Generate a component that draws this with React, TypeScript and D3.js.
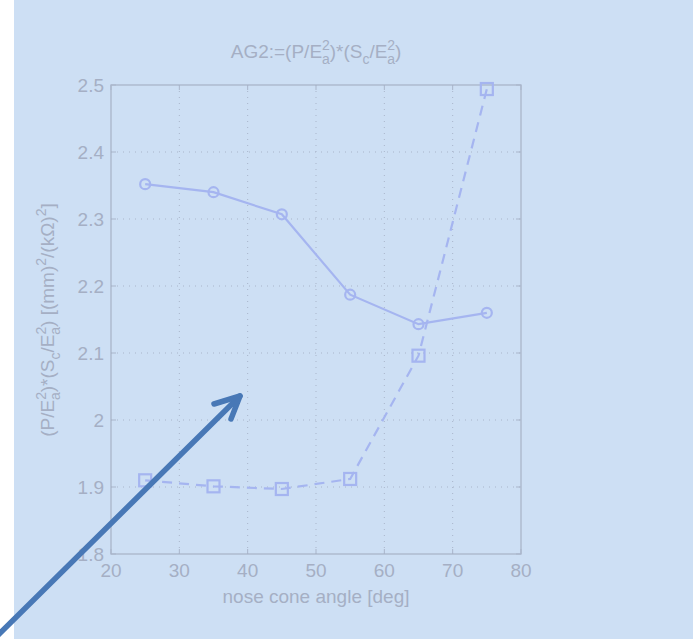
import React from "react";
import * as d3 from "d3";

const angles = [25, 35, 45, 55, 65, 75];
const circleSeries = [2.352, 2.34, 2.307, 2.187, 2.143, 2.16];
const squareSeries = [1.91, 1.901, 1.897, 1.912, 2.096, 2.494];
const xTicks = [20, 30, 40, 50, 60, 70, 80];
const yTicks = [1.8, 1.9, 2.0, 2.1, 2.2, 2.3, 2.4, 2.5];
const yTickLabels = ["1.8", "1.9", "2", "2.1", "2.2", "2.3", "2.4", "2.5"];

const W = 693, H = 642;
const L = 111, R = 521, T = 85, B = 554;
const textCol = "#a5afc4";
const axisCol = "#a9b5ca";
const lineCol = "#a5b5f0";
const font = "Liberation Sans, Arial, sans-serif";
const FS = 19;
const SS = 14;

export default function App() {
  const x = d3.scaleLinear().domain([20, 80]).range([L, R]);
  const y = d3.scaleLinear().domain([1.8, 2.5]).range([B, T]);
  const line = d3.line<number>().x((_, i) => x(angles[i])).y((d) => y(d));
  const arrowTip = [240, 396];
  return (
    <svg width={W} height={H} style={{ position: "absolute", left: 0, top: 0 }}>
      <rect x={0} y={0} width={W} height={H} fill="#ffffff" />
      <rect x={14} y={0} width={W - 14} height={639} fill="#cddff4" />
      {/* grid */}
      {xTicks.slice(1, -1).map((t) => (
        <line key={"gx" + t} x1={x(t)} x2={x(t)} y1={T} y2={B} stroke={axisCol} strokeWidth={1} strokeDasharray="1,5" />
      ))}
      {yTicks.slice(1, -1).map((t) => (
        <line key={"gy" + t} x1={L} x2={R} y1={y(t)} y2={y(t)} stroke={axisCol} strokeWidth={1} strokeDasharray="1,5" />
      ))}
      {/* box */}
      <rect x={L} y={T} width={R - L} height={B - T} fill="none" stroke={axisCol} strokeWidth={1.3} />
      {/* ticks */}
      {xTicks.map((t) => (
        <g key={"tx" + t}>
          <line x1={x(t)} x2={x(t)} y1={B} y2={B - 5} stroke={axisCol} />
          <line x1={x(t)} x2={x(t)} y1={T} y2={T + 5} stroke={axisCol} />
          <text x={x(t)} y={B + 23} textAnchor="middle" fontFamily={font} fontSize={FS} fill={textCol}>{t}</text>
        </g>
      ))}
      {yTicks.map((t, i) => (
        <g key={"ty" + t}>
          <line x1={L} x2={L + 5} y1={y(t)} y2={y(t)} stroke={axisCol} />
          <line x1={R} x2={R - 5} y1={y(t)} y2={y(t)} stroke={axisCol} />
          <text x={L - 7} y={y(t) + 7} textAnchor="end" fontFamily={font} fontSize={FS} fill={textCol}>{yTickLabels[i]}</text>
        </g>
      ))}
      {/* series */}
      <path d={line(circleSeries) || ""} fill="none" stroke={lineCol} strokeWidth={2.2} />
      {circleSeries.map((v, i) => (
        <circle key={"c" + i} cx={x(angles[i])} cy={y(v)} r={5} fill="none" stroke={lineCol} strokeWidth={2.2} />
      ))}
      <path d={line(squareSeries) || ""} fill="none" stroke={lineCol} strokeWidth={2.2} strokeDasharray="10,7" />
      {squareSeries.map((v, i) => (
        <rect key={"s" + i} x={x(angles[i]) - 6} y={y(v) - 6} width={12} height={12} fill="none" stroke={lineCol} strokeWidth={2.2} />
      ))}
      {/* title */}
      <text x={316} y={58} textAnchor="middle" fontFamily={font} fontSize={FS} fill={textCol}>
        AG2:=(P/E<tspan dy={-8} fontSize={SS}>2</tspan><tspan dx={-8} dy={14} fontSize={SS}>a</tspan><tspan dy={-6}>)*(S</tspan><tspan dy={6} fontSize={SS}>c</tspan><tspan dy={-6}>/E</tspan><tspan dy={-8} fontSize={SS}>2</tspan><tspan dx={-8} dy={14} fontSize={SS}>a</tspan><tspan dy={-6}>)</tspan>
      </text>
      {/* x label */}
      <text x={316} y={603} textAnchor="middle" fontFamily={font} fontSize={FS} fill={textCol}>nose cone angle [deg]</text>
      {/* y label */}
      <text transform={`translate(54,320) rotate(-90)`} textAnchor="middle" fontFamily={font} fontSize={FS} fill={textCol}>
        (P/E<tspan dy={-8} fontSize={SS}>2</tspan><tspan dx={-8} dy={14} fontSize={SS}>a</tspan><tspan dy={-6}>)*(S</tspan><tspan dy={6} fontSize={SS}>c</tspan><tspan dy={-6}>/E</tspan><tspan dy={-8} fontSize={SS}>2</tspan><tspan dx={-8} dy={14} fontSize={SS}>a</tspan><tspan dy={-6}>) [(mm)</tspan><tspan dy={-8} fontSize={SS}>2</tspan><tspan dy={8}>/(kΩ)</tspan><tspan dy={-8} fontSize={SS}>2</tspan><tspan dy={8}>]</tspan>
      </text>
      {/* arrow */}
      <g stroke="#4878b6" strokeWidth={5.5} strokeLinecap="round" strokeLinejoin="round" fill="none">
        <line x1={-4} y1={637} x2={arrowTip[0]} y2={arrowTip[1]} />
        <polyline points={`214,404 ${arrowTip[0]},${arrowTip[1]} 231,419`} />
      </g>
    </svg>
  );
}
